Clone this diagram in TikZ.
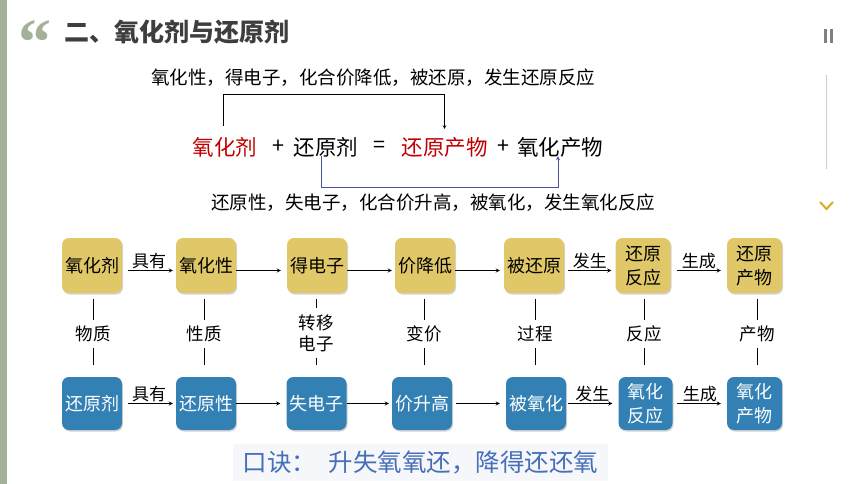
\documentclass[tikz,border=0pt]{standalone}
\usepackage{fontspec}
\setmainfont{Noto Sans CJK SC}
\newfontfamily\quotefont{Liberation Serif}
\usetikzlibrary{shadows}

\definecolor{barcol}{RGB}{163,176,154}
\definecolor{oxyel}{RGB}{224,200,104}
\definecolor{redblue}{RGB}{50,128,180}
\definecolor{eqred}{RGB}{192,0,0}
\definecolor{brblue}{RGB}{68,84,150}
\definecolor{mottoblue}{RGB}{70,110,185}
\definecolor{mottobg}{RGB}{245,247,250}
\definecolor{titlegray}{RGB}{62,62,62}
\definecolor{chevcol}{RGB}{222,170,30}

\tikzset{
	card/.style={rounded corners=7pt, minimum width=60pt, minimum height=55pt, inner sep=1pt,
		align=center, font=\fontsize{18}{24}\selectfont,
		drop shadow={opacity=0.35, shadow xshift=1pt, shadow yshift=-1.5pt}},
	oxcard/.style={card, fill=oxyel, text=black},
	redcard/.style={card, fill=redblue, text=white, minimum height=53pt},
	midlab/.style={inner sep=6pt, align=center, font=\fontsize{17.5}{21}\selectfont},
	arrlab/.style={above, inner sep=1.5pt, font=\fontsize{17}{20}\selectfont},
	flow/.style={->, >=stealth, line width=0.8pt},
	link/.style={line width=0.8pt},
	eqtext/.style={font=\fontsize{21.5}{24}\selectfont, inner sep=2pt},
	remark/.style={font=\fontsize{18.5}{22}\selectfont}
}

\begin{document}
\begin{tikzpicture}[x=1pt, y=-1pt]
	\useasboundingbox (0,0) rectangle (860,484);
	% frame of the slide
	\fill[barcol] (0,0) rectangle (7,484);
	\node[text=barcol, font=\quotefont\bfseries\fontsize{66}{66}\selectfont, inner sep=0pt, anchor=base west] (quote) at (18,65) {“};
	\node[text=titlegray, font=\bfseries\fontsize{25}{28}\selectfont, anchor=west, inner sep=0pt] (title) at (64,32) {二、氧化剂与还原剂};
	\fill[gray] (824,29) rectangle (827,43);
	\fill[gray] (830,29) rectangle (833,43);
	\draw[gray!40, line width=0.8pt] (826,75) -- (826,169);
	\draw[chevcol, line width=2pt] (820,202) -- (826.5,209) -- (833,202);

	% equation
	\node[remark] (ptop) at (373,78) {氧化性，得电子，化合价降低，被还原，发生还原反应};
	\node[eqtext, text=eqred] (ox) at (225,147) {氧化剂};
	\node[eqtext] (p1) at (278,147) {+};
	\node[eqtext] (rd) at (326,147) {还原剂};
	\node[eqtext] (eqs) at (379,147) {=};
	\node[eqtext, text=eqred] (rp) at (444.5,147) {还原产物};
	\node[eqtext] (p2) at (503,147) {+};
	\node[eqtext] (op) at (560,147) {氧化产物};
	\node[remark] (pbot) at (433,203) {还原性，失电子，化合价升高，被氧化，发生氧化反应};
	\draw[->, >=stealth, line width=0.6pt] ([xshift=-2pt, yshift=9pt]ox.north) -- ++(0,-32) -| ([yshift=6pt]rp.north);
	\draw[->, >=stealth, line width=0.8pt, brblue] ([xshift=-5pt, yshift=3pt]rd.south) -- ++(0,31) -| ([xshift=-2pt, yshift=3pt]op.south);

	% oxidant row
	\node[oxcard] (o1) at (92,265.5) {氧化剂};
	\node[oxcard] (o2) at (206,265.5) {氧化性};
	\node[oxcard] (o3) at (317,265.5) {得电子};
	\node[oxcard] (o4) at (425,265.5) {价降低};
	\node[oxcard] (o5) at (534,265.5) {被还原};
	\node[oxcard, minimum width=55pt] (o6) at (643,265.5) {还原\\反应};
	\node[oxcard, minimum width=55pt] (o7) at (754.5,265.5) {还原\\产物};

	% reductant row
	\node[redcard] (r1) at (92,403.5) {还原剂};
	\node[redcard] (r2) at (206,403.5) {还原性};
	\node[redcard] (r3) at (316.5,403.5) {失电子};
	\node[redcard] (r4) at (422,403.5) {价升高};
	\node[redcard] (r5) at (536,403.5) {被氧化};
	\node[redcard, minimum width=54pt] (r6) at (645.5,403.5) {氧化\\反应};
	\node[redcard, minimum width=55pt] (r7) at (754.5,403.5) {氧化\\产物};

	% arrows
	\draw[flow, shorten <=6pt, shorten >=3pt] ([yshift=-5pt]o1.east) -- node[arrlab] (l1) {具有} ([yshift=-5pt]o2.west);
	\draw[flow, shorten >=6pt] ([yshift=-5pt]o2.east) -- ([yshift=-5pt]o3.west);
	\draw[flow, shorten >=3pt] ([yshift=-5pt]o3.east) -- ([yshift=-5pt]o4.west);
	\draw[flow, shorten >=4pt] ([yshift=-5pt]o4.east) -- ([yshift=-5pt]o5.west);
	\draw[flow, shorten <=4pt, shorten >=4pt] ([yshift=-5pt]o5.east) -- node[arrlab] (l2) {发生} ([yshift=-5pt]o6.west);
	\draw[flow, shorten <=6pt, shorten >=6pt] ([yshift=-5pt]o6.east) -- node[arrlab] (l3) {生成} ([yshift=-5pt]o7.west);

	\draw[flow, shorten <=6pt, shorten >=3pt] (r1.east) -- node[arrlab] (l4) {具有} (r2.west);
	\draw[flow, shorten >=6pt] (r2.east) -- (r3.west);
	\draw[flow, shorten >=3pt] (r3.east) -- (r4.west);
	\draw[flow, shorten <=4pt, shorten >=6pt] (r4.east) -- (r5.west);
	\draw[flow, shorten <=2pt, shorten >=6pt] (r5.east) -- node[arrlab] (l5) {发生} (r6.west);
	\draw[flow, shorten <=4pt, shorten >=6pt] (r6.east) -- node[arrlab] (l6) {生成} (r7.west);

	% links between the rows
	\node[midlab] (m1) at (93,334) {物质};
	\node[midlab] (m2) at (204,334) {性质};
	\node[midlab] (m3) at (316,333) {转移\\电子};
	\node[midlab] (m4) at (424,334) {变价};
	\node[midlab] (m5) at (535,334) {过程};
	\node[midlab] (m6) at (644,334) {反应};
	\node[midlab] (m7) at (757,334) {产物};
	\draw[link, shorten <=6pt] (m1 |- o1.south) -- (m1);
	\draw[link, shorten <=6pt] (m2 |- o2.south) -- (m2);
	\draw[link, shorten <=6pt] (m3 |- o3.south) -- (m3);
	\draw[link, shorten <=6pt] (m4 |- o4.south) -- (m4);
	\draw[link, shorten <=6pt] (m5 |- o5.south) -- (m5);
	\draw[link, shorten <=6pt] (m6 |- o6.south) -- (m6);
	\draw[link, shorten <=6pt] (m7 |- o7.south) -- (m7);
	\draw[link, shorten >=12pt] (m1) -- (m1 |- r1.north);
	\draw[link, shorten >=12pt] (m2) -- (m2 |- r2.north);
	\draw[link, shorten >=12pt] (m3) -- (m3 |- r3.north);
	\draw[link, shorten >=12pt] (m4) -- (m4 |- r4.north);
	\draw[link, shorten >=12pt] (m5) -- (m5 |- r5.north);
	\draw[link, shorten >=12pt] (m6) -- (m6 |- r6.north);
	\draw[link, shorten >=12pt] (m7) -- (m7 |- r7.north);

	% rhyme
	\node[fill=mottobg, text=mottoblue, minimum width=375pt, minimum height=37pt, inner xsep=8pt,
		font=\fontsize{24.5}{26}\selectfont] (motto) at (420.5,462.5) {口诀：\hspace{0.5em}升失氧氧还，降得还还氧};
\end{tikzpicture}
\end{document}
